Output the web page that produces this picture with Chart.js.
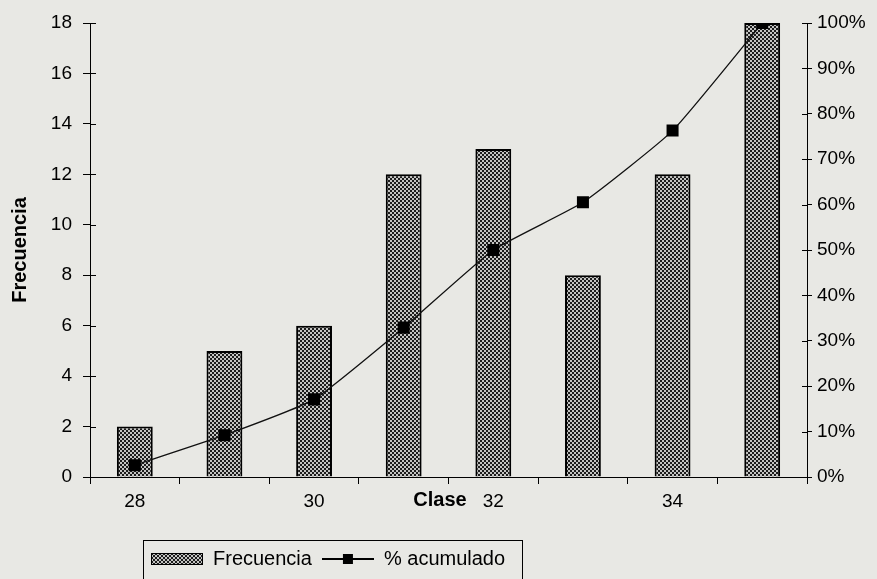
<!DOCTYPE html>
<html>
<head>
<meta charset="utf-8">
<script src="https://cdn.jsdelivr.net/npm/chart.js@4/dist/chart.umd.min.js"></script>
<style>
  html, body { margin: 0; padding: 0; background: #e8e8e4; }
  #wrap { width: 877px; height: 579px; }
</style>
</head>
<body>
<div id="wrap"><canvas id="c" width="877" height="579"></canvas></div>
<script>
// Class marks, frequency per class and cumulative percentage
const clases = ['28', '29', '30', '31', '32', '33', '34', '35'];
const frecuencia = [2, 5, 6, 12, 13, 8, 12, 18];
const acumulado = [2.6, 9.2, 17.1, 32.9, 50.0, 60.5, 76.3, 100];
const etiquetasX = ['28', '', '30', '', '32', '', '34', ''];
const tituloX = 'Clase';
const tituloY = 'Frecuencia';
const serieBarras = 'Frecuencia';
const serieLinea = '% acumulado';

const FONT = '"Liberation Sans", Arial, sans-serif';
const BG = '#e8e8e4';

// 2px checkerboard tile used as the bar fill
function checkerTile(dark, light, cell) {
  const c = document.createElement('canvas');
  c.width = c.height = cell * 2;
  const g = c.getContext('2d');
  g.fillStyle = light; g.fillRect(0, 0, cell * 2, cell * 2);
  g.fillStyle = dark; g.fillRect(0, 0, cell, cell); g.fillRect(cell, cell, cell, cell);
  return c;
}
const tile = checkerTile('#1c1c1c', '#c4c4c2', 2);
const canvas = document.getElementById('c');
const ctx = canvas.getContext('2d');
const barFill = ctx.createPattern(tile, 'repeat');

// Legend symbols: hatched swatch and line with a square marker
const swatch = document.createElement('canvas');
swatch.width = 52; swatch.height = 12;
(function () {
  const g = swatch.getContext('2d');
  g.fillStyle = g.createPattern(tile, 'repeat');
  g.fillRect(0, 0, 52, 12);
  g.strokeStyle = '#000'; g.lineWidth = 1;
  g.strokeRect(0.5, 0.5, 51, 11);
})();
const lineSample = document.createElement('canvas');
lineSample.width = 52; lineSample.height = 12;
(function () {
  const g = lineSample.getContext('2d');
  g.fillStyle = '#000';
  g.fillRect(0, 5, 52, 2);
  g.fillRect(21, 1, 10, 10);
})();

const background = {
  id: 'background',
  beforeDraw(chart) {
    const c = chart.ctx;
    c.save();
    c.fillStyle = BG;
    c.fillRect(0, 0, chart.width, chart.height);
    c.restore();
  }
};

// Tick marks that also cross into the plot on both value axes
const innerTicks = {
  id: 'innerTicks',
  afterDraw(chart) {
    const c = chart.ctx;
    c.save();
    c.strokeStyle = '#000';
    c.lineWidth = 1;
    const y = chart.scales.y, y1 = chart.scales.y1;
    c.beginPath();
    y.ticks.forEach((t, i) => {
      const p = Math.round(y.getPixelForTick(i)) + 0.5;
      c.moveTo(y.right, p); c.lineTo(y.right + 6, p);
    });
    y1.ticks.forEach((t, i) => {
      const p = Math.round(y1.getPixelForTick(i)) + 0.5;
      c.moveTo(y1.left - 5, p); c.lineTo(y1.left, p);
    });
    c.stroke();
    c.restore();
  }
};

// Category axis title, set on the tick-label row
const axisTitleX = {
  id: 'axisTitleX',
  afterDraw(chart) {
    const c = chart.ctx;
    c.save();
    c.font = 'bold 20px ' + FONT;
    c.fillStyle = '#000';
    c.textAlign = 'center';
    c.textBaseline = 'middle';
    c.fillText(tituloX, 440, 500);
    c.restore();
  }
};

// Legend placed under the left part of the plot, with a frame
const legendFrame = {
  id: 'legendFrame',
  afterLayout(chart) {
    if (chart.legend) chart.legend.left = 141;
  },
  afterDraw(chart) {
    const lg = chart.legend;
    if (!lg || !lg.legendHitBoxes || !lg.legendHitBoxes.length) return;
    const hb = lg.legendHitBoxes;
    const l = Math.round(hb[0].left - 8);
    const last = hb[hb.length - 1];
    const r = Math.round(last.left + last.width + 17);
    const t = Math.round(lg.top + 1);
    const c = chart.ctx;
    c.save();
    c.strokeStyle = '#000';
    c.lineWidth = 1;
    c.strokeRect(l + 0.5, t + 0.5, r - l, 100);
    c.restore();
  }
};

Chart.defaults.font.family = FONT;
Chart.defaults.color = '#000';

new Chart(ctx, {
  data: {
    labels: clases,
    datasets: [
      {
        type: 'bar',
        label: serieBarras,
        data: frecuencia,
        yAxisID: 'y',
        backgroundColor: barFill,
        borderColor: '#000',
        borderWidth: 2,
        barPercentage: 0.4,
        categoryPercentage: 1,
        order: 2
      },
      {
        type: 'line',
        label: serieLinea,
        data: acumulado,
        yAxisID: 'y1',
        borderColor: '#111',
        borderWidth: 1.3,
        tension: 0.15,
        fill: false,
        pointStyle: 'rect',
        pointRadius: 8.5,
        pointBackgroundColor: '#000',
        pointBorderWidth: 0,
        order: 1
      }
    ]
  },
  options: {
    responsive: false,
    animation: false,
    events: [],
    layout: { padding: { top: 23, left: 0, right: 0, bottom: 0 } },
    plugins: {
      tooltip: { enabled: false },
      legend: {
        position: 'bottom',
        align: 'start',
        labels: {
          usePointStyle: true,
          pointStyleWidth: 52,
          boxHeight: 12,
          padding: 10,
          color: '#000',
          font: { size: 20, family: FONT },
          sort: (a, b) => a.datasetIndex - b.datasetIndex,
          generateLabels(chart) {
            const items = Chart.defaults.plugins.legend.labels.generateLabels(chart);
            items.forEach(it => { it.pointStyle = it.datasetIndex === 0 ? swatch : lineSample; });
            return items;
          }
        }
      }
    },
    scales: {
      x: {
        type: 'category',
        offset: true,
        grid: { display: true, offset: true, drawOnChartArea: false, drawTicks: true, tickLength: 7, color: '#000', tickColor: '#000', lineWidth: 1 },
        border: { display: true, color: '#000', width: 1 },
        ticks: {
          autoSkip: false, maxRotation: 0, minRotation: 0, padding: 6,
          font: { size: 19, family: FONT }, color: '#000',
          callback: (v, i) => etiquetasX[i]
        },
        afterFit(s) { s.height = 62; }
      },
      y: {
        position: 'left',
        min: 0, max: 18,
        ticks: { stepSize: 2, padding: 11, font: { size: 19, family: FONT }, color: '#000' },
        grid: { display: true, drawOnChartArea: false, drawTicks: true, tickLength: 7, color: '#000', tickColor: '#000' },
        border: { display: true, color: '#000', width: 1 },
        title: { display: true, text: tituloY, color: '#000', font: { size: 20, weight: 'bold', family: FONT }, padding: { top: 8, bottom: 0 } },
        afterFit(s) { s.width = 90; }
      },
      y1: {
        position: 'right',
        min: 0, max: 100,
        ticks: { stepSize: 10, padding: 5, font: { size: 19, family: FONT }, color: '#000', callback: v => v + '%' },
        grid: { display: true, drawOnChartArea: false, drawTicks: true, tickLength: 5, color: '#000', tickColor: '#000' },
        border: { display: true, color: '#000', width: 1 },
        afterFit(s) { s.width = 70; }
      }
    }
  },
  plugins: [background, innerTicks, axisTitleX, legendFrame]
});
</script>
</body>
</html>
